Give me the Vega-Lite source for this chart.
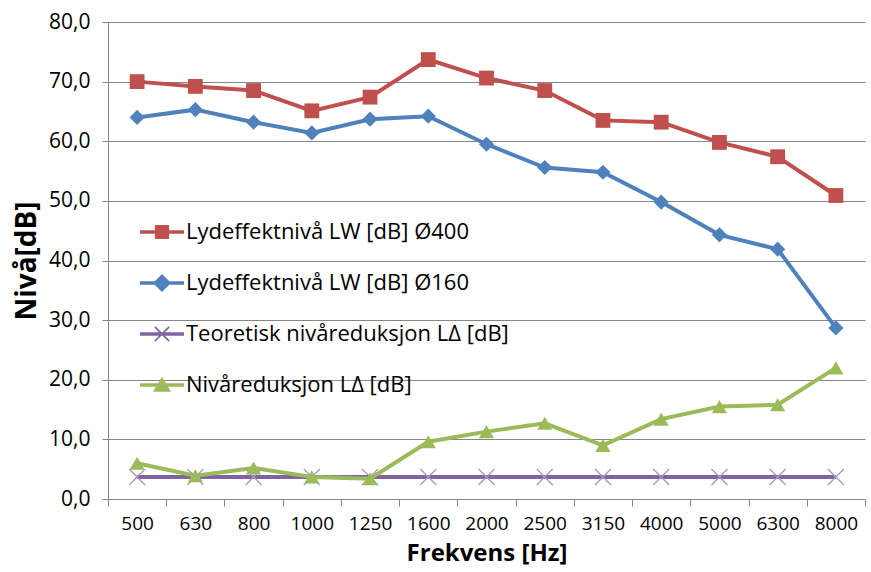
{
  "$schema": "https://vega.github.io/schema/vega-lite/v6.json",
  "width": 757,
  "height": 477,
  "autosize": "none",
  "padding": {"left": 108, "top": 22, "right": 6, "bottom": 73},
  "background": "white",
  "config": {"view": {"stroke": null}, "font": "Open Sans"},
  "data": {"values": [
    {"f": "500", "s": "Lydeffektnivå LW [dB] Ø400", "v": 70.0},
    {"f": "630", "s": "Lydeffektnivå LW [dB] Ø400", "v": 69.2},
    {"f": "800", "s": "Lydeffektnivå LW [dB] Ø400", "v": 68.5},
    {"f": "1000", "s": "Lydeffektnivå LW [dB] Ø400", "v": 65.1},
    {"f": "1250", "s": "Lydeffektnivå LW [dB] Ø400", "v": 67.4},
    {"f": "1600", "s": "Lydeffektnivå LW [dB] Ø400", "v": 73.7},
    {"f": "2000", "s": "Lydeffektnivå LW [dB] Ø400", "v": 70.6},
    {"f": "2500", "s": "Lydeffektnivå LW [dB] Ø400", "v": 68.5},
    {"f": "3150", "s": "Lydeffektnivå LW [dB] Ø400", "v": 63.5},
    {"f": "4000", "s": "Lydeffektnivå LW [dB] Ø400", "v": 63.2},
    {"f": "5000", "s": "Lydeffektnivå LW [dB] Ø400", "v": 59.8},
    {"f": "6300", "s": "Lydeffektnivå LW [dB] Ø400", "v": 57.4},
    {"f": "8000", "s": "Lydeffektnivå LW [dB] Ø400", "v": 50.9},
    {"f": "500", "s": "Lydeffektnivå LW [dB] Ø160", "v": 64.0},
    {"f": "630", "s": "Lydeffektnivå LW [dB] Ø160", "v": 65.3},
    {"f": "800", "s": "Lydeffektnivå LW [dB] Ø160", "v": 63.2},
    {"f": "1000", "s": "Lydeffektnivå LW [dB] Ø160", "v": 61.4},
    {"f": "1250", "s": "Lydeffektnivå LW [dB] Ø160", "v": 63.7},
    {"f": "1600", "s": "Lydeffektnivå LW [dB] Ø160", "v": 64.2},
    {"f": "2000", "s": "Lydeffektnivå LW [dB] Ø160", "v": 59.5},
    {"f": "2500", "s": "Lydeffektnivå LW [dB] Ø160", "v": 55.6},
    {"f": "3150", "s": "Lydeffektnivå LW [dB] Ø160", "v": 54.8},
    {"f": "4000", "s": "Lydeffektnivå LW [dB] Ø160", "v": 49.8},
    {"f": "5000", "s": "Lydeffektnivå LW [dB] Ø160", "v": 44.3},
    {"f": "6300", "s": "Lydeffektnivå LW [dB] Ø160", "v": 41.9},
    {"f": "8000", "s": "Lydeffektnivå LW [dB] Ø160", "v": 28.7},
    {"f": "500", "s": "Teoretisk nivåreduksjon LΔ [dB]", "v": 3.7},
    {"f": "630", "s": "Teoretisk nivåreduksjon LΔ [dB]", "v": 3.7},
    {"f": "800", "s": "Teoretisk nivåreduksjon LΔ [dB]", "v": 3.7},
    {"f": "1000", "s": "Teoretisk nivåreduksjon LΔ [dB]", "v": 3.7},
    {"f": "1250", "s": "Teoretisk nivåreduksjon LΔ [dB]", "v": 3.7},
    {"f": "1600", "s": "Teoretisk nivåreduksjon LΔ [dB]", "v": 3.7},
    {"f": "2000", "s": "Teoretisk nivåreduksjon LΔ [dB]", "v": 3.7},
    {"f": "2500", "s": "Teoretisk nivåreduksjon LΔ [dB]", "v": 3.7},
    {"f": "3150", "s": "Teoretisk nivåreduksjon LΔ [dB]", "v": 3.7},
    {"f": "4000", "s": "Teoretisk nivåreduksjon LΔ [dB]", "v": 3.7},
    {"f": "5000", "s": "Teoretisk nivåreduksjon LΔ [dB]", "v": 3.7},
    {"f": "6300", "s": "Teoretisk nivåreduksjon LΔ [dB]", "v": 3.7},
    {"f": "8000", "s": "Teoretisk nivåreduksjon LΔ [dB]", "v": 3.7},
    {"f": "500", "s": "Nivåreduksjon LΔ [dB]", "v": 6.0},
    {"f": "630", "s": "Nivåreduksjon LΔ [dB]", "v": 3.9},
    {"f": "800", "s": "Nivåreduksjon LΔ [dB]", "v": 5.2},
    {"f": "1000", "s": "Nivåreduksjon LΔ [dB]", "v": 3.7},
    {"f": "1250", "s": "Nivåreduksjon LΔ [dB]", "v": 3.4},
    {"f": "1600", "s": "Nivåreduksjon LΔ [dB]", "v": 9.6},
    {"f": "2000", "s": "Nivåreduksjon LΔ [dB]", "v": 11.3},
    {"f": "2500", "s": "Nivåreduksjon LΔ [dB]", "v": 12.7},
    {"f": "3150", "s": "Nivåreduksjon LΔ [dB]", "v": 9.0},
    {"f": "4000", "s": "Nivåreduksjon LΔ [dB]", "v": 13.4},
    {"f": "5000", "s": "Nivåreduksjon LΔ [dB]", "v": 15.5},
    {"f": "6300", "s": "Nivåreduksjon LΔ [dB]", "v": 15.8},
    {"f": "8000", "s": "Nivåreduksjon LΔ [dB]", "v": 22.0}
  ]},
  "encoding": {
    "x": {
      "field": "f", "type": "ordinal",
      "sort": ["500","630","800","1000","1250","1600","2000","2500","3150","4000","5000","6300","8000"],
      "scale": {"type": "band", "paddingInner": 0, "paddingOuter": 0},
      "axis": {
        "title": "Frekvens [Hz]", "titleFontSize": 24, "titleFontWeight": "bold", "titleColor": "#000000", "titlePadding": 8,
        "labelAngle": 0, "labelFontSize": 19, "labelColor": "#000000", "labelPadding": 8,
        "domainColor": "#868686", "tickColor": "#868686", "tickSize": 7, "tickBand": "extent", "grid": false
      }
    },
    "y": {
      "field": "v", "type": "quantitative",
      "scale": {"domain": [0, 80]},
      "axis": {
        "title": "Nivå[dB]", "titleFontSize": 28, "titleFontWeight": "bold", "titleColor": "#000000", "titlePadding": 7,
        "values": [0,10,20,30,40,50,60,70,80],
        "labelExpr": "replace(format(datum.value, '.1f'), '.', ',')",
        "labelFontSize": 21, "labelColor": "#000000", "labelPadding": 12,
        "domainColor": "#868686", "tickColor": "#868686", "tickSize": 6,
        "grid": true, "gridColor": "#868686", "gridWidth": 1
      }
    },
    "color": {
      "field": "s", "type": "nominal",
      "scale": {
        "domain": ["Lydeffektnivå LW [dB] Ø400", "Lydeffektnivå LW [dB] Ø160", "Teoretisk nivåreduksjon LΔ [dB]", "Nivåreduksjon LΔ [dB]"],
        "range": ["#C0504D", "#4F81BD", "#8064A2", "#9BBB59"]
      },
      "legend": {
        "title": null, "orient": "none", "legendX": 43, "legendY": 199, "padding": 0,
        "symbolSize": 484, "rowPadding": 29, "labelOffset": 13,
        "labelFontSize": 22, "labelColor": "#000000", "labelLimit": 500,
        "encode": {
          "symbols": {
            "update": {
              "shape": {"signal": "datum.index === 0 ? 'M-2,-0.16H2V0.16H-2Z M-0.64,-0.64H0.64V0.64H-0.64Z' : datum.index === 1 ? 'M-2,-0.16H2V0.16H-2Z M0,-0.82L0.82,0L0,0.82L-0.82,0Z' : datum.index === 2 ? 'M-2,-0.16H2V0.16H-2Z M-0.7,-0.6L-0.6,-0.7L0.7,0.6L0.6,0.7Z M0.6,-0.7L0.7,-0.6L-0.6,0.7L-0.7,0.6Z' : 'M-2,-0.16H2V0.16H-2Z M0,-0.75L0.82,0.62L-0.82,0.62Z'"},
              "fill": {"scale": "color", "field": "value"},
              "stroke": {"value": "transparent"},
              "strokeWidth": {"value": 0},
              "opacity": {"value": 1}
            }
          }
        }
      }
    }
  },
  "layer": [
    {"mark": {"type": "line", "strokeWidth": 4}},
    {"transform": [{"filter": "datum.s === 'Lydeffektnivå LW [dB] Ø400'"}],
     "mark": {"type": "point", "shape": "square", "filled": true, "size": 220, "opacity": 1}},
    {"transform": [{"filter": "datum.s === 'Lydeffektnivå LW [dB] Ø160'"}],
     "mark": {"type": "point", "shape": "diamond", "filled": true, "size": 230, "opacity": 1}},
    {"transform": [{"filter": "datum.s === 'Teoretisk nivåreduksjon LΔ [dB]'"}],
     "mark": {"type": "point", "shape": "M-1,-1L1,1M-1,1L1,-1", "filled": false, "size": 256, "strokeWidth": 1.3, "opacity": 1},
     "encoding": {"color": {"value": "#A595C8"}}},
    {"transform": [{"filter": "datum.s === 'Nivåreduksjon LΔ [dB]'"}],
     "mark": {"type": "point", "shape": "triangle-up", "filled": true, "size": 230, "opacity": 1}}
  ]
}
